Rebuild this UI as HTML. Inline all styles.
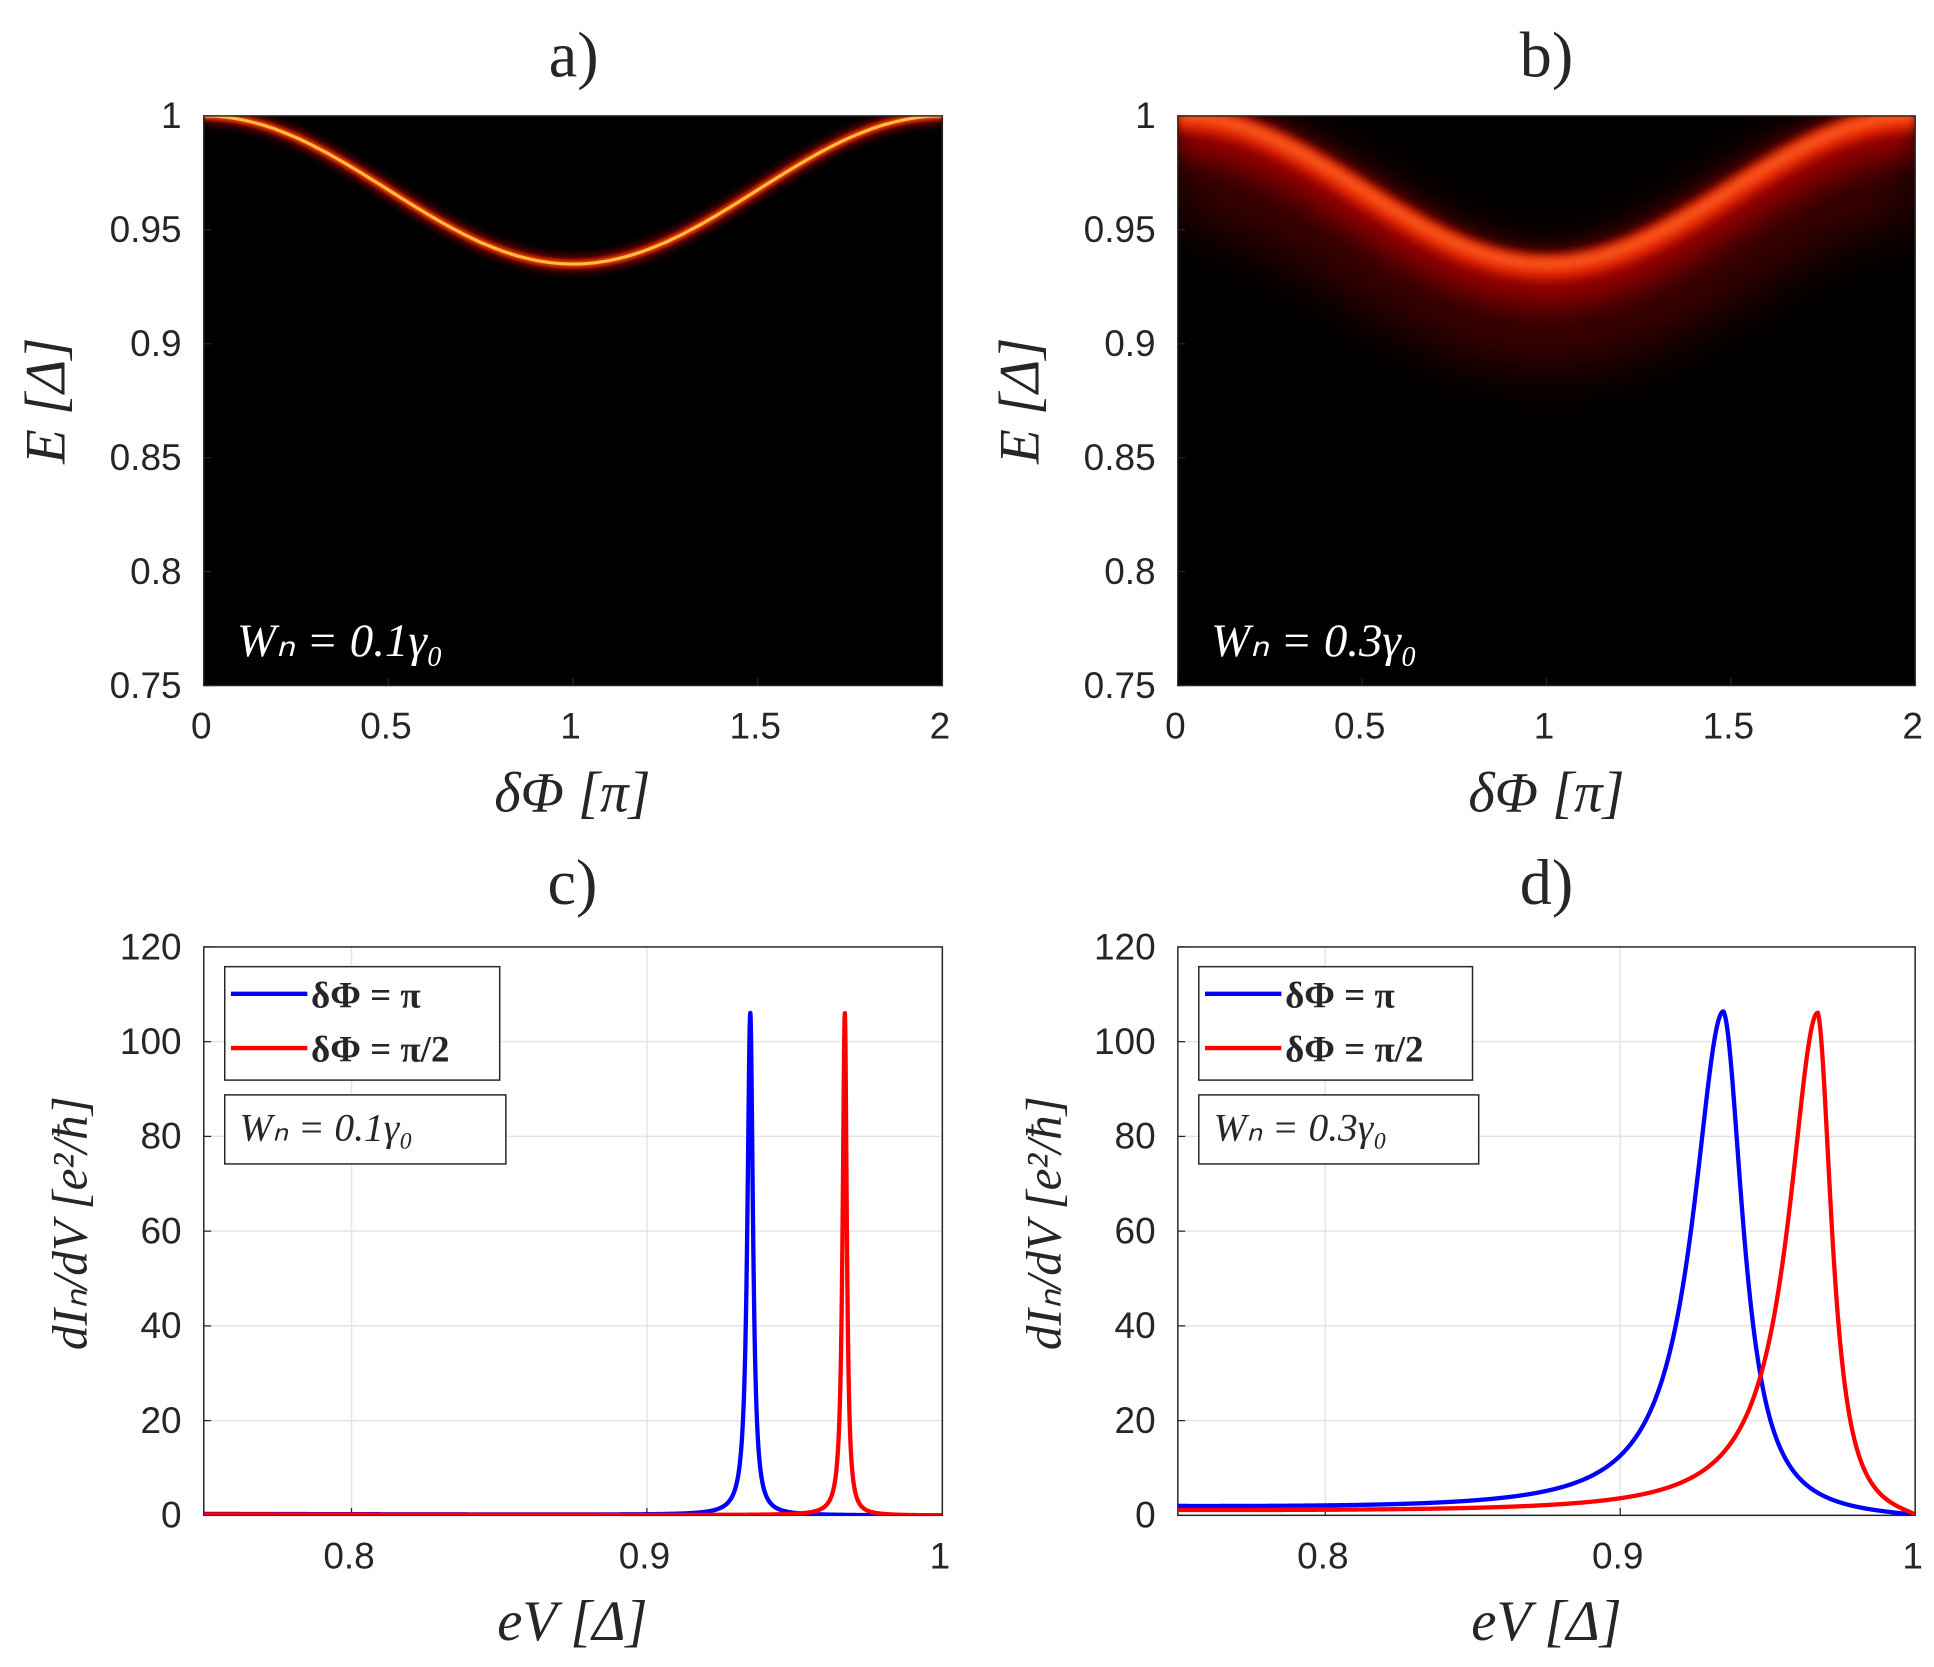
<!DOCTYPE html>
<html><head><meta charset="utf-8"><style>
html,body{margin:0;padding:0;background:#fff}
svg{display:block}
text{font-family:"Liberation Sans",sans-serif;fill:#262626}
.s{font-family:"Liberation Serif",serif}
</style></head><body>
<svg id="g" width="1934" height="1667" viewBox="0 0 1568 1352" xmlns="http://www.w3.org/2000/svg">
<defs>
<clipPath id="ca"><rect x="165" y="94" width="599" height="462"/></clipPath>
<clipPath id="cb"><rect x="955" y="94" width="598" height="462"/></clipPath>
<clipPath id="cc"><rect x="165" y="768" width="599" height="461"/></clipPath>
<clipPath id="cd"><rect x="955" y="768" width="598" height="461"/></clipPath>
<filter id="b1" x="-20%" y="-50%" width="140%" height="200%"><feGaussianBlur stdDeviation="1.5"/></filter>
<filter id="b2" x="-20%" y="-50%" width="140%" height="200%"><feGaussianBlur stdDeviation="4"/></filter>
<filter id="b3" x="-20%" y="-50%" width="140%" height="200%"><feGaussianBlur stdDeviation="10"/></filter>
<filter id="b4" x="-20%" y="-80%" width="140%" height="260%"><feGaussianBlur stdDeviation="22"/></filter>
</defs>
<g id="content"></g>
</svg>
<script>
const NS="http://www.w3.org/2000/svg";
const C=document.getElementById('content');
function el(t,a,txt,p){const e=document.createElementNS(NS,t);for(const k in a)e.setAttribute(k,a[k]);if(txt!=null)e.textContent=txt;(p||C).appendChild(e);return e;}
function curve(x0,w,dy){let d="";for(let i=0;i<=300;i++){const f=i/150;const E=1-0.065*(1-Math.cos(Math.PI*f))/2;const x=x0+f/2*w;const y=94+(1-E)*1848+(dy||0);d+=(i?"L":"M")+x.toFixed(1)+","+y.toFixed(1);}return d;}
el('rect',{x:165,y:94,width:599,height:462,fill:'#000'});
let ga=el('g',{'clip-path':'url(#ca)'});
el('path',{d:curve(165,599),stroke:'#c01000',fill:'none','stroke-width':9,filter:'url(#b2)'},null,ga);
el('path',{d:curve(165,599),stroke:'#ff4000',fill:'none','stroke-width':5,filter:'url(#b1)'},null,ga);
el('path',{d:curve(165,599),stroke:'#ffc040',fill:'none','stroke-width':2.5},null,ga);
el('rect',{x:955,y:94,width:598,height:462,fill:'#000'});
let gb=el('g',{'clip-path':'url(#cb)'});
el('path',{d:curve(955,598,40),stroke:'#3a0000',fill:'none','stroke-width':90,filter:'url(#b4)'},null,gb);
el('path',{d:curve(955,598,14),stroke:'#900000',fill:'none','stroke-width':40,filter:'url(#b3)'},null,gb);
el('path',{d:curve(955,598,3),stroke:'#e02000',fill:'none','stroke-width':20,filter:'url(#b2)'},null,gb);
el('path',{d:curve(955,598),stroke:'#ff6020',fill:'none','stroke-width':8,filter:'url(#b2)'},null,gb);
function axes(x0,x1,y0,y1,xt,xl,yt,yl,grid){
 if(grid){xt.forEach((v,i)=>{const x=x0+(x1-x0)*(v-xl[0])/(xl[1]-xl[0]);el('line',{x1:x,x2:x,y1:y0,y2:y1,stroke:'#e4e4e4','stroke-width':1.2});});
  yt.forEach(v=>{const y=y1-(y1-y0)*(v-yl[0])/(yl[1]-yl[0]);el('line',{x1:x0,x2:x1,y1:y,y2:y,stroke:'#e4e4e4','stroke-width':1.2});});}
 el('rect',{x:x0,y:y0,width:x1-x0,height:y1-y0,fill:'none',stroke:'#262626','stroke-width':1.2});
 xt.forEach(v=>{const x=x0+(x1-x0)*(v-xl[0])/(xl[1]-xl[0]);el('text',{x:x-2,y:y1+43,'font-size':30,'text-anchor':'middle'},String(v));
   el('line',{x1:x,x2:x,y1:y1,y2:y1-6,stroke:'#262626'});});
 yt.forEach(v=>{const y=y1-(y1-y0)*(v-yl[0])/(yl[1]-yl[0]);el('text',{x:x0-18,y:y+10,'font-size':30,'text-anchor':'end'},String(v));
   el('line',{x1:x0,x2:x0+6,y1:y,y2:y,stroke:'#262626'});});
}
axes(165,764,94,556,[0,0.5,1,1.5,2],[0,2],[0.75,0.8,0.85,0.9,0.95,1],[0.75,1],false);
axes(955,1553,94,556,[0,0.5,1,1.5,2],[0,2],[0.75,0.8,0.85,0.9,0.95,1],[0.75,1],false);
function lor(x,x0,gl,gr){const g=x<x0?gl:gr;return 106/(1+((x-x0)/g)**2);}
function line(x0p,clip,x0,gl,gr,col,base){let d="";let i=0;for(let x=0.75;x<=1.00001;x+=0.00005){let f=x<x0?1:Math.max(0,(1-x)/(1-x0));let v=lor(x,x0,gl,gr)*(x<x0?1:Math.pow(f,0.6))+(base?base*(1-x)/0.25*f:0);const px=x0p+(x-0.75)*599/0.25*(clip=='cd'?598/599:1);const py=1229-v*461/120;d+=(i++?"L":"M")+px.toFixed(2)+","+py.toFixed(2);}
 el('path',{d:d,stroke:col,fill:'none','stroke-width':3.5,'clip-path':'url(#'+clip+')','stroke-linejoin':'round'});}
el('rect',{x:165,y:768,width:599,height:461,fill:'#fff'});
el('rect',{x:955,y:768,width:598,height:461,fill:'#fff'});
axes(165,764,768,1229,[0.8,0.9,1],[0.75,1],[0,20,40,60,80,100,120],[0,120],true);
axes(955,1553,768,1229,[0.8,0.9,1],[0.75,1],[0,20,40,60,80,100,120],[0,120],true);
line(165,'cc',0.935,0.0012,0.0011,'#0000ff',0.3);
line(165,'cc',0.967,0.0009,0.0008,'#ff0000',0.2);
line(955,'cd',0.935,0.0125,0.0085,'#0000ff',1.5);
line(955,'cd',0.967,0.012,0.0062,'#ff0000',0.8);
function legend(x,y,w){el('rect',{x:x,y:y,width:w,height:92,fill:'#fff',stroke:'#262626','stroke-width':1.2});
 el('line',{x1:x+5,x2:x+67,y1:y+22,y2:y+22,stroke:'#00f','stroke-width':3.5});
 el('line',{x1:x+5,x2:x+67,y1:y+66,y2:y+66,stroke:'#f00','stroke-width':3.5});
 el('text',{x:x+70,y:y+33,'font-size':30,class:'s','font-weight':'bold'},'δΦ = π');
 el('text',{x:x+70,y:y+77,'font-size':30,class:'s','font-weight':'bold'},'δΦ = π/2');}
legend(182,784,223);legend(972,784,222);
function wbox(x,w,t){el('rect',{x:x,y:888,width:w,height:56,fill:'#fff',stroke:'#262626','stroke-width':1.2});
 el('text',{x:x+12,y:925,'font-size':32,class:'s','font-style':'italic'},t);}
wbox(182,228,'W\u2099 = 0.1γ₀');wbox(972,227,'W\u2099 = 0.3γ₀');
el('text',{x:192,y:532,'font-size':38,class:'s','font-style':'italic',style:'fill:#fff'},'W\u2099 = 0.1γ₀');
el('text',{x:982,y:532,'font-size':38,class:'s','font-style':'italic',style:'fill:#fff'},'W\u2099 = 0.3γ₀');
[['a)',465,62],['b)',1254,62],['c)',464,733],['d)',1254,733]].forEach(t=>el('text',{x:t[1],y:t[2],'font-size':52,class:'s','text-anchor':'middle'},t[0]));
[[464,658,'δΦ [π]'],[1254,658,'δΦ [π]'],[464,1330,'eV [Δ]'],[1254,1330,'eV [Δ]']].forEach(t=>el('text',{x:t[0],y:t[1],'font-size':46,class:'s','font-style':'italic','text-anchor':'middle'},t[2]));
[[52,325],[842,325]].forEach(p=>el('text',{x:0,y:0,'font-size':46,class:'s','font-style':'italic','text-anchor':'middle',transform:'translate('+p[0]+','+p[1]+') rotate(-90)'},'E [Δ]'));
[[70,992],[860,992]].forEach(p=>el('text',{x:0,y:0,'font-size':40,class:'s','font-style':'italic','text-anchor':'middle',transform:'translate('+p[0]+','+p[1]+') rotate(-90)'},'dI\u2099/dV  [e²/ħ]'));
</script>
</body></html>
